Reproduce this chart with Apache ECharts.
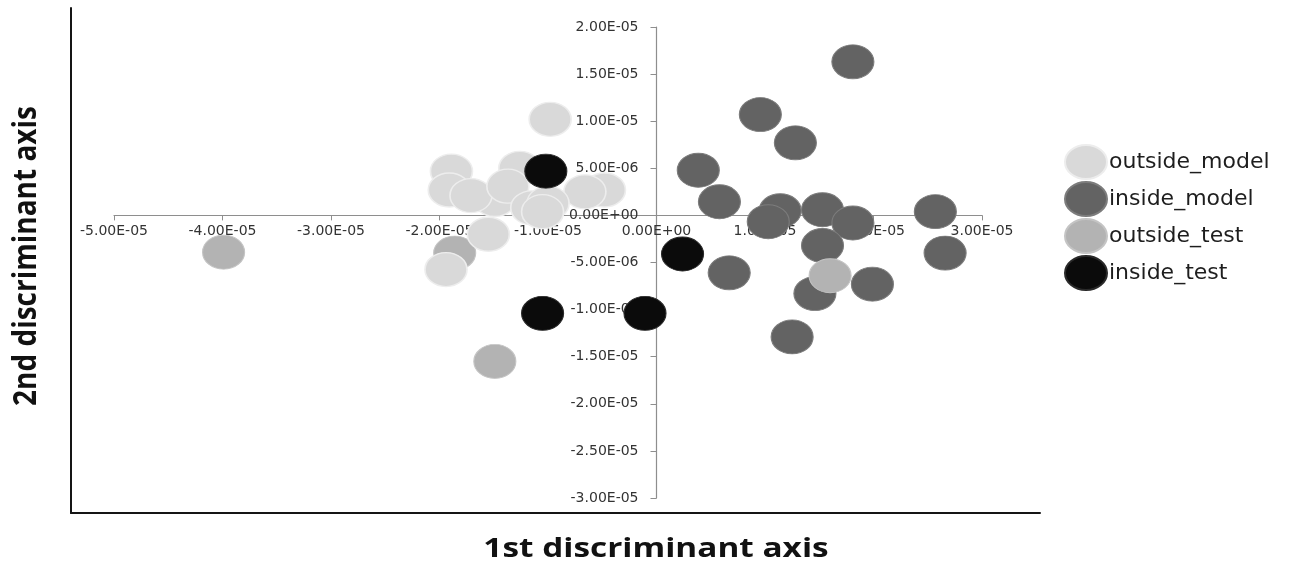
<!DOCTYPE html>
<html>
<head>
<meta charset="utf-8">
<script src="https://cdn.jsdelivr.net/npm/echarts@6/dist/echarts.min.js"></script>
<style>
html,body{margin:0;padding:0;background:#fff;}
#chart{width:1291px;height:567px;}
</style>
</head>
<body>
<div id="chart"></div>
<script>
// ---- data (1st discriminant axis, 2nd discriminant axis) ----
const seriesNames = ['outside_model', 'inside_model', 'outside_test', 'inside_test'];
const xTitle = '1st discriminant axis';
const yTitle = '2nd discriminant axis';
const xRange = [-5e-5, 3e-5];
const yRange = [-3e-5, 2e-5];

const outsideModel = [
  [-1.89e-5, 4.7e-6], [-1.91e-5, 2.7e-6], [-1.49e-5, 1.7e-6], [-1.71e-5, 2.1e-6],
  [-1.26e-5, 5.0e-6], [-1.37e-5, 3.1e-6], [-4.8e-6, 2.7e-6], [-6.6e-6, 2.5e-6],
  [-1.55e-5, -2.0e-6], [-1.15e-5, 8e-7], [-1.0e-5, 1.3e-6], [-1.05e-5, 4e-7],
  [-9.8e-6, 1.02e-5], [-1.94e-5, -5.75e-6]
];
const insideModel = [
  [1.81e-5, 1.63e-5], [9.57e-6, 1.07e-5], [1.28e-5, 7.7e-6], [3.85e-6, 4.8e-6],
  [5.8e-6, 1.45e-6], [1.14e-5, 5e-7], [1.03e-5, -6.7e-7], [1.53e-5, 6e-7],
  [1.81e-5, -8e-7], [2.57e-5, 4e-7], [2.66e-5, -4.0e-6], [1.53e-5, -3.2e-6],
  [6.7e-6, -6.1e-6], [1.46e-5, -8.3e-6], [1.99e-5, -7.3e-6], [1.25e-5, -1.29e-5]
];
const outsideTest = [
  [-3.99e-5, -3.9e-6], [-1.86e-5, -4.0e-6], [-1.49e-5, -1.55e-5], [1.6e-5, -6.4e-6]
];
const insideTest = [
  [-1.02e-5, 4.7e-6], [-1.05e-5, -1.04e-5], [-1.06e-6, -1.04e-5], [2.4e-6, -4.1e-6]
];

function fmtE(v) {
  if (Math.abs(v) < 1e-15) return '0.00E+00';
  const s = v.toExponential(2).split('e');
  let e = parseInt(s[1], 10);
  const sign = e < 0 ? '-' : '+';
  e = Math.abs(e);
  return s[0] + 'E' + sign + (e < 10 ? '0' + e : '' + e);
}

const chart = echarts.init(document.getElementById('chart'), null, {renderer: 'canvas'});
const sym = [42, 34];
const ellipseIcon = 'path://M0,17A21,17,0,1,1,42,17A21,17,0,1,1,0,17Z';
const labelFont = {fontFamily: 'DejaVu Sans', fontSize: 14, color: '#333333'};

// plot-area geometry: the axes cross at (0,0), so they are shifted into the grid
const gLeft = 114, gRight = 309, gTop = 27, gBottom = 69;
const gW = 1291 - gLeft - gRight, gH = 567 - gTop - gBottom;
const xZeroOffset = -gW * (0 - xRange[0]) / (xRange[1] - xRange[0]);
const yZeroOffset = -gH * (0 - yRange[0]) / (yRange[1] - yRange[0]);

const option = {
  backgroundColor: '#ffffff',
  animation: false,
  legend: {
    orient: 'vertical',
    left: 1059,
    top: 139,
    itemWidth: 42,
    itemHeight: 34,
    itemGap: 1,
    icon: ellipseIcon,
    data: seriesNames,
    textStyle: {fontFamily: 'DejaVu Sans', fontSize: 22, color: '#1e1e1e', padding: [0, 0, 0, -3]}
  },
  grid: [
    {left: gLeft, right: gRight, top: gTop, bottom: gBottom},
    {left: 71, right: 251, top: 8, bottom: 54}
  ],
  xAxis: [
    {
      type: 'value', gridIndex: 0, min: xRange[0], max: xRange[1], interval: 1e-5,
      position: 'bottom', offset: yZeroOffset,
      axisLine: {onZero: false, lineStyle: {color: '#8e8e8e', width: 1.2}},
      axisTick: {show: true, length: 5, lineStyle: {color: '#8e8e8e'}},
      axisLabel: Object.assign({margin: 9, formatter: fmtE}, labelFont),
      splitLine: {show: false}
    },
    {
      type: 'value', gridIndex: 1, min: 0, max: 1,
      axisLine: {onZero: false, lineStyle: {color: '#151515', width: 2}},
      axisTick: {show: false}, axisLabel: {show: false}, splitLine: {show: false}
    }
  ],
  yAxis: [
    {
      type: 'value', gridIndex: 0, min: yRange[0], max: yRange[1], interval: 5e-6,
      position: 'left', offset: xZeroOffset,
      axisLine: {onZero: false, lineStyle: {color: '#8e8e8e', width: 1.2}},
      axisTick: {show: true, length: 6, lineStyle: {color: '#8e8e8e'}},
      axisLabel: Object.assign({margin: 18, formatter: fmtE}, labelFont),
      splitLine: {show: false}
    },
    {
      type: 'value', gridIndex: 1, min: 0, max: 1,
      axisLine: {onZero: false, lineStyle: {color: '#151515', width: 2}},
      axisTick: {show: false}, axisLabel: {show: false}, splitLine: {show: false}
    }
  ],
  graphic: [
    {
      type: 'text', x: 656, y: 549, scaleX: 1.235, z: 10,
      style: {text: xTitle, font: 'bold 27px "Open Sans"', fill: '#111', align: 'center', verticalAlign: 'middle'}
    },
    {
      type: 'text', x: 27, y: 256, rotation: Math.PI / 2, scaleY: 1.15, z: 10,
      style: {text: yTitle, font: 'bold 28px "Open Sans"', fill: '#111', align: 'center', verticalAlign: 'middle'}
    }
  ],
  series: [
    {
      name: 'inside_model', type: 'scatter', xAxisIndex: 0, yAxisIndex: 0,
      data: insideModel, symbol: 'circle', symbolSize: sym,
      itemStyle: {color: '#636363', borderColor: '#7c7c7c', borderWidth: 1, opacity: 1}
    },
    {
      name: 'outside_test', type: 'scatter', xAxisIndex: 0, yAxisIndex: 0,
      data: outsideTest, symbol: 'circle', symbolSize: sym,
      itemStyle: {color: '#b3b3b3', borderColor: '#c4c4c4', borderWidth: 1, opacity: 1}
    },
    {
      name: 'outside_model', type: 'scatter', xAxisIndex: 0, yAxisIndex: 0,
      data: outsideModel, symbol: 'circle', symbolSize: sym,
      itemStyle: {color: '#d9d9d9', borderColor: '#ededed', borderWidth: 1.5, opacity: 1}
    },
    {
      name: 'inside_test', type: 'scatter', xAxisIndex: 0, yAxisIndex: 0,
      data: insideTest, symbol: 'circle', symbolSize: sym,
      itemStyle: {color: '#0b0b0b', borderColor: '#2a2a2a', borderWidth: 1, opacity: 1}
    }
  ]
};
chart.setOption(option);
</script>
</body>
</html>
